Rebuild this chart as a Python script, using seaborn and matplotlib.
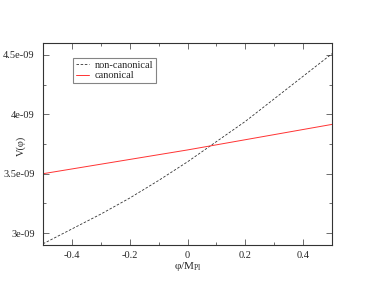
import numpy as np
import pandas as pd
import seaborn as sns
import matplotlib
matplotlib.use('Agg')
import matplotlib.pyplot as plt
from matplotlib.ticker import MultipleLocator

# values
phi = [-0.5, -0.4, -0.3, -0.2, -0.1, 0.0, 0.1, 0.2, 0.3, 0.4, 0.5]
v_noncanonical = [2.91e-9, 3.035e-9, 3.16e-9, 3.295e-9, 3.443e-9, 3.60e-9,
                  3.77e-9, 3.94e-9, 4.13e-9, 4.32e-9, 4.51e-9]
phi_can = [-0.5, 0.0, 0.5]
v_canonical = [3.50e-9, 3.70e-9, 3.915e-9]

sns.set_style('ticks')
plt.rcParams['font.family'] = ['Liberation Serif', 'DejaVu Serif']
plt.rcParams['mathtext.fontset'] = 'custom'
plt.rcParams['mathtext.rm'] = 'Liberation Serif'
plt.rcParams['mathtext.it'] = 'Liberation Serif:italic'

df_nc = pd.DataFrame({'phi': phi, 'V': v_noncanonical})
df_c = pd.DataFrame({'phi': phi_can, 'V': v_canonical})

fig = plt.figure(figsize=(3.74, 2.89), dpi=100)
ax = fig.add_axes([43 / 374, 1 - 245 / 289, 289 / 374, 202 / 289])

sns.lineplot(data=df_nc, x='phi', y='V', ax=ax, color='#333333', lw=0.6,
             linestyle=(0, (3, 2)), label='non-canonical')
sns.lineplot(data=df_c, x='phi', y='V', ax=ax, color='#ff3333', lw=0.7,
             label='canonical')

ax.set_xlim(-0.5, 0.5)
ax.set_ylim(2.9e-9, 4.6e-9)
ax.xaxis.set_minor_locator(MultipleLocator(0.1))
ax.yaxis.set_minor_locator(MultipleLocator(0.25e-9))
ax.set_xticks([-0.4, -0.2, 0, 0.2, 0.4])
ax.set_xticklabels(['-0.4', '-0.2', '0', '0.2', '0.4'])
ax.set_yticks([3e-9, 3.5e-9, 4e-9, 4.5e-9])
ax.set_yticklabels(['3e-09', '3.5e-09', '4e-09', '4.5e-09'])
ax.tick_params(which='both', direction='in', top=True, right=True,
               labelsize=7.5, color='#555555')
ax.tick_params(axis='y', pad=6)
ax.tick_params(axis='x', pad=4)
ax.tick_params(which='major', length=4, width=0.6)
ax.tick_params(which='minor', length=2, width=0.6)
for s in ax.spines.values():
    s.set_linewidth(0.8)
    s.set_color('#333333')

ax.set_xlabel(r'φ/M$_\mathrm{Pl}$', fontsize=8, labelpad=0)
ax.set_ylabel('V(φ)', fontsize=7.5)
ax.yaxis.set_label_coords(-0.058, 0.49)

leg = ax.legend(loc='upper left', bbox_to_anchor=(0.104, 0.926), fontsize=7.5,
                frameon=True, fancybox=False, handlelength=1.3,
                borderpad=0.25, labelspacing=0.1, handletextpad=0.5,
                borderaxespad=0)
leg.get_frame().set_edgecolor('#666666')
leg.get_frame().set_linewidth(0.8)

fig.savefig('out.png', dpi=100)
